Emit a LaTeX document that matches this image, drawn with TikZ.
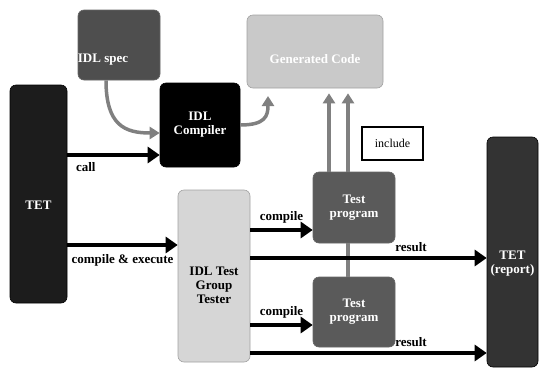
\documentclass[tikz,border=0pt]{standalone}
\usepackage{fontspec}
\setmainfont{Liberation Serif}
\usepackage{xcolor}
\usepackage{tikz}
\usetikzlibrary{arrows.meta,calc}
\definecolor{coal}{HTML}{1C1C1C}
\definecolor{slate}{HTML}{4E4E4E}
\definecolor{steel}{HTML}{5A5A5A}
\definecolor{mist}{HTML}{C9C9C9}
\definecolor{fog}{HTML}{D6D6D6}
\definecolor{pipe}{HTML}{808080}
\tikzset{
  font=\fontsize{13}{14}\selectfont\bfseries,
  block/.style={rounded corners=6pt,draw=black!60,line width=.6pt,align=center,inner sep=2pt,text=white},
  dark/.style={block,fill=coal,draw=black},
  mid/.style={block,fill=slate},
  pale/.style={block,fill=mist,draw=mist!80!black},
  flow/.style={-{Triangle[length=12pt,width=16pt]},line width=4.5pt,draw=black},
  feed/.style={-{Triangle[length=10pt,width=12pt]},line width=3.5pt,draw=pipe},
  tag/.style={font=\fontsize{13}{14}\selectfont\bfseries,inner sep=1pt}
}
\begin{document}
\begin{tikzpicture}[x=1pt,y=-1pt]
\useasboundingbox (0,0) rectangle (539,389);
% boxes
\node[mid,minimum width=82pt,minimum height=70pt] (spec) at (119,45) {};
\node[text=white] (spectext) at (103,60) {IDL spec};
\node[dark,fill=black,minimum width=80pt,minimum height=84pt] (compiler) at (200,125) {IDL\\Compiler};
\node[pale,minimum width=136pt,minimum height=73pt,text=white,text height=24pt] (gen) at (315,51.5) {Generated Code};
\node[dark,minimum width=57pt,minimum height=218pt,text height=30pt] (tet) at (38.5,194) {TET};
\node[pale,fill=fog,text=black,minimum width=72pt,minimum height=172pt] (tester) at (214,276) {\rule{0pt}{27pt}IDL Test\\Group\\Tester};
\node[mid,fill=steel,minimum width=82pt,minimum height=71pt] (prog1) at (354,207.5) {Test\\program};
\node[mid,fill=steel,minimum width=82pt,minimum height=70pt] (prog2) at (354,312) {Test\\program};
\node[dark,fill=coal!90!white,minimum width=51pt,minimum height=230pt] (report) at (512.5,252) {\rule{0pt}{31pt}TET\\(report)};
\node[draw=black,line width=1.4pt,fill=white,font=\fontsize{12}{14}\selectfont,minimum width=61pt,minimum height=33pt] (incl) at (392.5,143.5) {include};

% code generation
\coordinate (genin) at (268,96);
\draw[feed] ([xshift=-13pt]spec.south) .. controls +(0,45) and +(-35,0) .. ([yshift=-8pt]compiler.west);
\draw[feed] (compiler.east) .. controls +(25,0) and +(0,20) .. (genin);
\draw[feed,shorten >=5pt] (prog1.north -| 329,0) -- (gen.south -| 329,0);
\draw[feed,shorten >=5pt] (prog1.north -| 348,0) -- (gen.south -| 348,0);
\draw[pipe,line width=3.5pt] (prog1.south -| 348,0) -- (prog2.north -| 348,0);

% calls
\draw[flow] (tet.east |- 0,155) -- (compiler.west |- 0,155) node[tag,pos=.2,below=4pt] {call};
\draw[flow] (tet.east |- 0,245) -- (tester.west |- 0,245) node[tag,midway,below=6pt] {compile \& execute};
\draw[flow] (tester.east |- 0,230) -- (prog1.west |- 0,230) node[tag,midway,above=3pt] {compile};
\draw[flow] (tester.east |- 0,258) -- (report.west |- 0,258) node[tag,pos=.68,above=3pt] {result};
\draw[flow] (tester.east |- 0,325) -- (prog2.west |- 0,325) node[tag,midway,above=3pt] {compile};
\draw[flow] (tester.east |- 0,353) -- (report.west |- 0,353) node[tag,pos=.68,above=3pt] {result};
\end{tikzpicture}
\end{document}
